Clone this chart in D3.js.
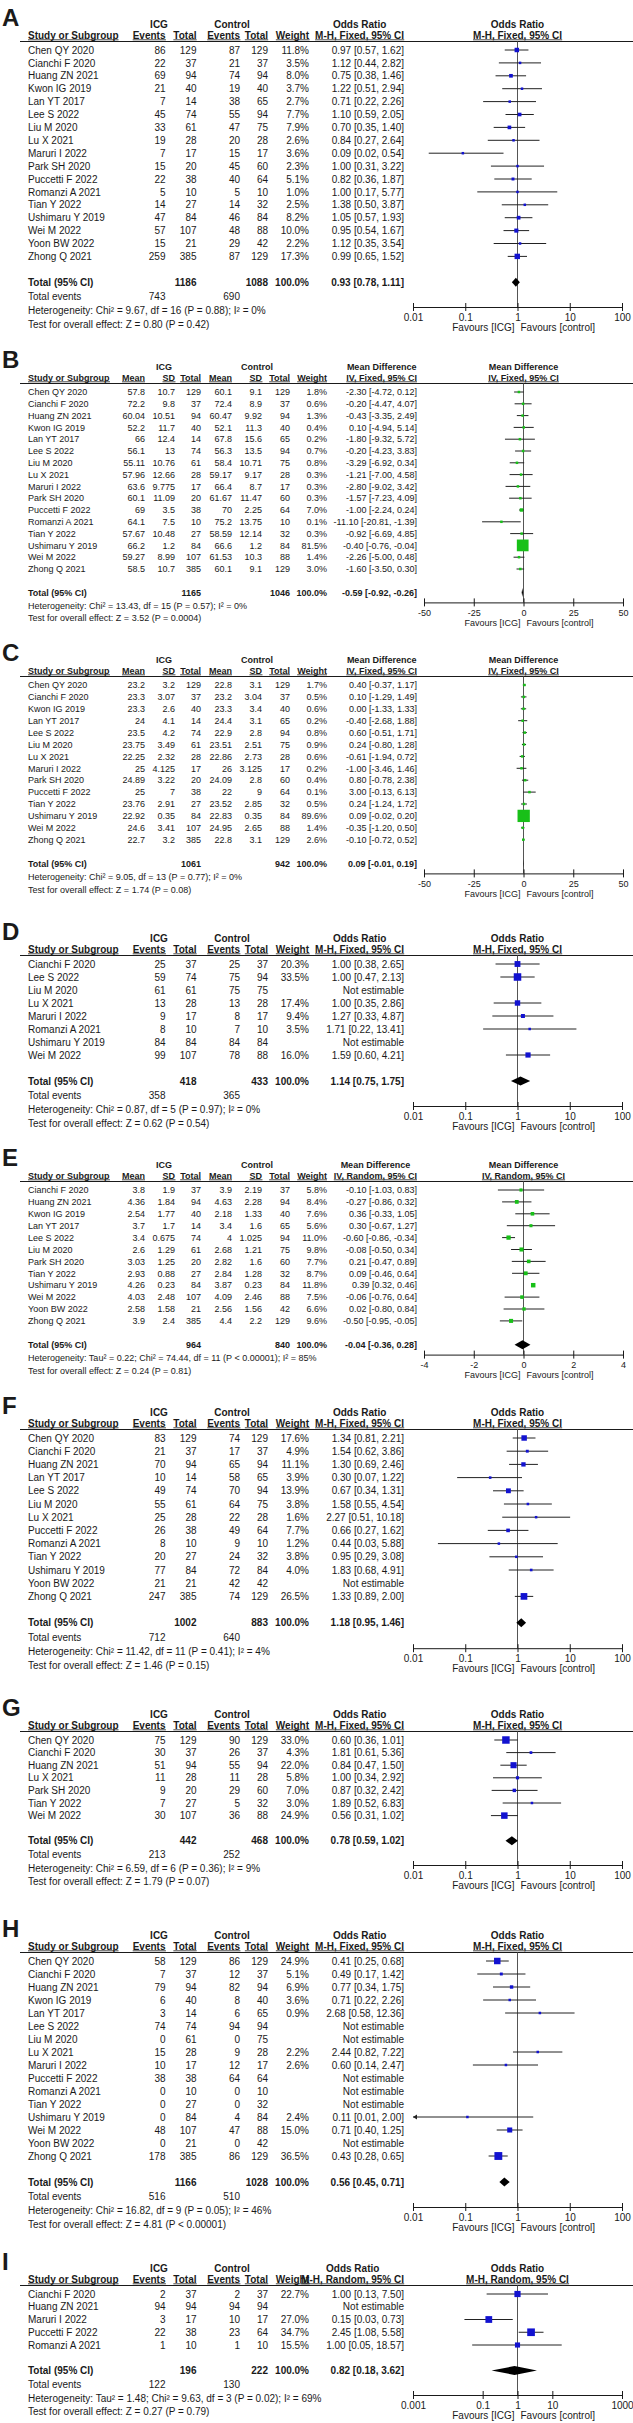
<!DOCTYPE html>
<html>
<head>
<meta charset="utf-8">
<title>Forest plots: ICG vs control</title>
<script src="https://cdn.jsdelivr.net/npm/d3@7"></script>
<style>
body { margin: 0; background: #fff; }
svg { display: block; font-family: "Liberation Sans", Arial, sans-serif; }
</style>
</head>
<body>
<svg id="chart" width="633" height="2423"></svg>
<script>
// ---- data ----
// dichotomous rows: study, ICG events, ICG total, control events, control total, weight, OR, lo, hi
var rowsA = [
  ["Chen QY 2020", 86, 129, 87, 129, 11.8, 0.97, 0.57, 1.62],
  ["Cianchi F 2020", 22, 37, 21, 37, 3.5, 1.12, 0.44, 2.82],
  ["Huang ZN 2021", 69, 94, 74, 94, 8.0, 0.75, 0.38, 1.46],
  ["Kwon IG 2019", 21, 40, 19, 40, 3.7, 1.22, 0.51, 2.94],
  ["Lan YT 2017", 7, 14, 38, 65, 2.7, 0.71, 0.22, 2.26],
  ["Lee S 2022", 45, 74, 55, 94, 7.7, 1.10, 0.59, 2.05],
  ["Liu M 2020", 33, 61, 47, 75, 7.9, 0.70, 0.35, 1.40],
  ["Lu X 2021", 19, 28, 20, 28, 2.6, 0.84, 0.27, 2.64],
  ["Maruri I 2022", 7, 17, 15, 17, 3.6, 0.09, 0.02, 0.54],
  ["Park SH 2020", 15, 20, 45, 60, 2.3, 1.00, 0.31, 3.22],
  ["Puccetti F 2022", 22, 38, 40, 64, 5.1, 0.82, 0.36, 1.87],
  ["Romanzi A 2021", 5, 10, 5, 10, 1.0, 1.00, 0.17, 5.77],
  ["Tian Y 2022", 14, 27, 14, 32, 2.5, 1.38, 0.50, 3.87],
  ["Ushimaru Y 2019", 47, 84, 46, 84, 8.2, 1.05, 0.57, 1.93],
  ["Wei M 2022", 57, 107, 48, 88, 10.0, 0.95, 0.54, 1.67],
  ["Yoon BW 2022", 15, 21, 29, 42, 2.2, 1.12, 0.35, 3.54],
  ["Zhong Q 2021", 259, 385, 87, 129, 17.3, 0.99, 0.65, 1.52]
];
var totalA = [1186, 1088, 0.93, 0.78, 1.11];
var eventsA = [743, 690];
var hetA = "Heterogeneity: Chi² = 9.67, df = 16 (P = 0.88); I² = 0%";
var testA = "Test for overall effect: Z = 0.80 (P = 0.42)";

// continuous rows: study, ICG mean, sd, total, control mean, sd, total, weight, MD, lo, hi
var rowsB = [
  ["Chen QY 2020", 57.8, 10.7, 129, 60.1, 9.1, 129, 1.8, -2.30, -4.72, 0.12],
  ["Cianchi F 2020", 72.2, 9.8, 37, 72.4, 8.9, 37, 0.6, -0.20, -4.47, 4.07],
  ["Huang ZN 2021", 60.04, 10.51, 94, 60.47, 9.92, 94, 1.3, -0.43, -3.35, 2.49],
  ["Kwon IG 2019", 52.2, 11.7, 40, 52.1, 11.3, 40, 0.4, 0.10, -4.94, 5.14],
  ["Lan YT 2017", 66, 12.4, 14, 67.8, 15.6, 65, 0.2, -1.80, -9.32, 5.72],
  ["Lee S 2022", 56.1, 13, 74, 56.3, 13.5, 94, 0.7, -0.20, -4.23, 3.83],
  ["Liu M 2020", 55.11, 10.76, 61, 58.4, 10.71, 75, 0.8, -3.29, -6.92, 0.34],
  ["Lu X 2021", 57.96, 12.66, 28, 59.17, 9.17, 28, 0.3, -1.21, -7.00, 4.58],
  ["Maruri I 2022", 63.6, 9.775, 17, 66.4, 8.7, 17, 0.3, -2.80, -9.02, 3.42],
  ["Park SH 2020", 60.1, 11.09, 20, 61.67, 11.47, 60, 0.3, -1.57, -7.23, 4.09],
  ["Puccetti F 2022", 69, 3.5, 38, 70, 2.25, 64, 7.0, -1.00, -2.24, 0.24],
  ["Romanzi A 2021", 64.1, 7.5, 10, 75.2, 13.75, 10, 0.1, -11.10, -20.81, -1.39],
  ["Tian Y 2022", 57.67, 10.48, 27, 58.59, 12.14, 32, 0.3, -0.92, -6.69, 4.85],
  ["Ushimaru Y 2019", 66.2, 1.2, 84, 66.6, 1.2, 84, 81.5, -0.40, -0.76, -0.04],
  ["Wei M 2022", 59.27, 8.99, 107, 61.53, 10.3, 88, 1.4, -2.26, -5.00, 0.48],
  ["Zhong Q 2021", 58.5, 10.7, 385, 60.1, 9.1, 129, 3.0, -1.60, -3.50, 0.30]
];
var totalB = [1165, 1046, -0.59, -0.92, -0.26];
var hetB = "Heterogeneity: Chi² = 13.43, df = 15 (P = 0.57); I² = 0%";
var testB = "Test for overall effect: Z = 3.52 (P = 0.0004)";

var rowsC = [
  ["Chen QY 2020", 23.2, 3.2, 129, 22.8, 3.1, 129, 1.7, 0.40, -0.37, 1.17],
  ["Cianchi F 2020", 23.3, 3.07, 37, 23.2, 3.04, 37, 0.5, 0.10, -1.29, 1.49],
  ["Kwon IG 2019", 23.3, 2.6, 40, 23.3, 3.4, 40, 0.6, 0.00, -1.33, 1.33],
  ["Lan YT 2017", 24, 4.1, 14, 24.4, 3.1, 65, 0.2, -0.40, -2.68, 1.88],
  ["Lee S 2022", 23.5, 4.2, 74, 22.9, 2.8, 94, 0.8, 0.60, -0.51, 1.71],
  ["Liu M 2020", 23.75, 3.49, 61, 23.51, 2.51, 75, 0.9, 0.24, -0.80, 1.28],
  ["Lu X 2021", 22.25, 2.32, 28, 22.86, 2.73, 28, 0.6, -0.61, -1.94, 0.72],
  ["Maruri I 2022", 25, 4.125, 17, 26, 3.125, 17, 0.2, -1.00, -3.46, 1.46],
  ["Park SH 2020", 24.89, 3.22, 20, 24.09, 2.8, 60, 0.4, 0.80, -0.78, 2.38],
  ["Puccetti F 2022", 25, 7, 38, 22, 9, 64, 0.1, 3.00, -0.13, 6.13],
  ["Tian Y 2022", 23.76, 2.91, 27, 23.52, 2.85, 32, 0.5, 0.24, -1.24, 1.72],
  ["Ushimaru Y 2019", 22.92, 0.35, 84, 22.83, 0.35, 84, 89.6, 0.09, -0.02, 0.20],
  ["Wei M 2022", 24.6, 3.41, 107, 24.95, 2.65, 88, 1.4, -0.35, -1.20, 0.50],
  ["Zhong Q 2021", 22.7, 3.2, 385, 22.8, 3.1, 129, 2.6, -0.10, -0.72, 0.52]
];
var totalC = [1061, 942, 0.09, -0.01, 0.19];
var hetC = "Heterogeneity: Chi² = 9.05, df = 13 (P = 0.77); I² = 0%";
var testC = "Test for overall effect: Z = 1.74 (P = 0.08)";

var rowsD = [
  ["Cianchi F 2020", 25, 37, 25, 37, 20.3, 1.00, 0.38, 2.65],
  ["Lee S 2022", 59, 74, 75, 94, 33.5, 1.00, 0.47, 2.13],
  ["Liu M 2020", 61, 61, 75, 75, null, null, null, null],
  ["Lu X 2021", 13, 28, 13, 28, 17.4, 1.00, 0.35, 2.86],
  ["Maruri I 2022", 9, 17, 8, 17, 9.4, 1.27, 0.33, 4.87],
  ["Romanzi A 2021", 8, 10, 7, 10, 3.5, 1.71, 0.22, 13.41],
  ["Ushimaru Y 2019", 84, 84, 84, 84, null, null, null, null],
  ["Wei M 2022", 99, 107, 78, 88, 16.0, 1.59, 0.60, 4.21]
];
var totalD = [418, 433, 1.14, 0.75, 1.75];
var eventsD = [358, 365];
var hetD = "Heterogeneity: Chi² = 0.87, df = 5 (P = 0.97); I² = 0%";
var testD = "Test for overall effect: Z = 0.62 (P = 0.54)";

var rowsE = [
  ["Cianchi F 2020", 3.8, 1.9, 37, 3.9, 2.19, 37, 5.8, -0.10, -1.03, 0.83],
  ["Huang ZN 2021", 4.36, 1.84, 94, 4.63, 2.28, 94, 8.4, -0.27, -0.86, 0.32],
  ["Kwon IG 2019", 2.54, 1.77, 40, 2.18, 1.33, 40, 7.6, 0.36, -0.33, 1.05],
  ["Lan YT 2017", 3.7, 1.7, 14, 3.4, 1.6, 65, 5.6, 0.30, -0.67, 1.27],
  ["Lee S 2022", 3.4, 0.675, 74, 4, 1.025, 94, 11.0, -0.60, -0.86, -0.34],
  ["Liu M 2020", 2.6, 1.29, 61, 2.68, 1.21, 75, 9.8, -0.08, -0.50, 0.34],
  ["Park SH 2020", 3.03, 1.25, 20, 2.82, 1.6, 60, 7.7, 0.21, -0.47, 0.89],
  ["Tian Y 2022", 2.93, 0.88, 27, 2.84, 1.28, 32, 8.7, 0.09, -0.46, 0.64],
  ["Ushimaru Y 2019", 4.26, 0.23, 84, 3.87, 0.23, 84, 11.8, 0.39, 0.32, 0.46],
  ["Wei M 2022", 4.03, 2.48, 107, 4.09, 2.46, 88, 7.5, -0.06, -0.76, 0.64],
  ["Yoon BW 2022", 2.58, 1.58, 21, 2.56, 1.56, 42, 6.6, 0.02, -0.80, 0.84],
  ["Zhong Q 2021", 3.9, 2.4, 385, 4.4, 2.2, 129, 9.6, -0.50, -0.95, -0.05]
];
var totalE = [964, 840, -0.04, -0.36, 0.28];
var hetE = "Heterogeneity: Tau² = 0.22; Chi² = 74.44, df = 11 (P < 0.00001); I² = 85%";
var testE = "Test for overall effect: Z = 0.24 (P = 0.81)";

var rowsF = [
  ["Chen QY 2020", 83, 129, 74, 129, 17.6, 1.34, 0.81, 2.21],
  ["Cianchi F 2020", 21, 37, 17, 37, 4.9, 1.54, 0.62, 3.86],
  ["Huang ZN 2021", 70, 94, 65, 94, 11.1, 1.30, 0.69, 2.46],
  ["Lan YT 2017", 10, 14, 58, 65, 3.9, 0.30, 0.07, 1.22],
  ["Lee S 2022", 49, 74, 70, 94, 13.9, 0.67, 0.34, 1.31],
  ["Liu M 2020", 55, 61, 64, 75, 3.8, 1.58, 0.55, 4.54],
  ["Lu X 2021", 25, 28, 22, 28, 1.6, 2.27, 0.51, 10.18],
  ["Puccetti F 2022", 26, 38, 49, 64, 7.7, 0.66, 0.27, 1.62],
  ["Romanzi A 2021", 8, 10, 9, 10, 1.2, 0.44, 0.03, 5.88],
  ["Tian Y 2022", 20, 27, 24, 32, 3.8, 0.95, 0.29, 3.08],
  ["Ushimaru Y 2019", 77, 84, 72, 84, 4.0, 1.83, 0.68, 4.91],
  ["Yoon BW 2022", 21, 21, 42, 42, null, null, null, null],
  ["Zhong Q 2021", 247, 385, 74, 129, 26.5, 1.33, 0.89, 2.00]
];
var totalF = [1002, 883, 1.18, 0.95, 1.46];
var eventsF = [712, 640];
var hetF = "Heterogeneity: Chi² = 11.42, df = 11 (P = 0.41); I² = 4%";
var testF = "Test for overall effect: Z = 1.46 (P = 0.15)";

var rowsG = [
  ["Chen QY 2020", 75, 129, 90, 129, 33.0, 0.60, 0.36, 1.01],
  ["Cianchi F 2020", 30, 37, 26, 37, 4.3, 1.81, 0.61, 5.36],
  ["Huang ZN 2021", 51, 94, 55, 94, 22.0, 0.84, 0.47, 1.50],
  ["Lu X 2021", 11, 28, 11, 28, 5.8, 1.00, 0.34, 2.92],
  ["Park SH 2020", 9, 20, 29, 60, 7.0, 0.87, 0.32, 2.42],
  ["Tian Y 2022", 7, 27, 5, 32, 3.0, 1.89, 0.52, 6.83],
  ["Wei M 2022", 30, 107, 36, 88, 24.9, 0.56, 0.31, 1.02]
];
var totalG = [442, 468, 0.78, 0.59, 1.02];
var eventsG = [213, 252];
var hetG = "Heterogeneity: Chi² = 6.59, df = 6 (P = 0.36); I² = 9%";
var testG = "Test for overall effect: Z = 1.79 (P = 0.07)";

var rowsH = [
  ["Chen QY 2020", 58, 129, 86, 129, 24.9, 0.41, 0.25, 0.68],
  ["Cianchi F 2020", 7, 37, 12, 37, 5.1, 0.49, 0.17, 1.42],
  ["Huang ZN 2021", 79, 94, 82, 94, 6.9, 0.77, 0.34, 1.75],
  ["Kwon IG 2019", 6, 40, 8, 40, 3.6, 0.71, 0.22, 2.26],
  ["Lan YT 2017", 3, 14, 6, 65, 0.9, 2.68, 0.58, 12.36],
  ["Lee S 2022", 74, 74, 94, 94, null, null, null, null],
  ["Liu M 2020", 0, 61, 0, 75, null, null, null, null],
  ["Lu X 2021", 15, 28, 9, 28, 2.2, 2.44, 0.82, 7.22],
  ["Maruri I 2022", 10, 17, 12, 17, 2.6, 0.60, 0.14, 2.47],
  ["Puccetti F 2022", 38, 38, 64, 64, null, null, null, null],
  ["Romanzi A 2021", 0, 10, 0, 10, null, null, null, null],
  ["Tian Y 2022", 0, 27, 0, 32, null, null, null, null],
  ["Ushimaru Y 2019", 0, 84, 4, 84, 2.4, 0.11, 0.01, 2.00],
  ["Wei M 2022", 48, 107, 47, 88, 15.0, 0.71, 0.40, 1.25],
  ["Yoon BW 2022", 0, 21, 0, 42, null, null, null, null],
  ["Zhong Q 2021", 178, 385, 86, 129, 36.5, 0.43, 0.28, 0.65]
];
var totalH = [1166, 1028, 0.56, 0.45, 0.71];
var eventsH = [516, 510];
var hetH = "Heterogeneity: Chi² = 16.82, df = 9 (P = 0.05); I² = 46%";
var testH = "Test for overall effect: Z = 4.81 (P < 0.00001)";

var rowsI = [
  ["Cianchi F 2020", 2, 37, 2, 37, 22.7, 1.00, 0.13, 7.50],
  ["Huang ZN 2021", 94, 94, 94, 94, null, null, null, null],
  ["Maruri I 2022", 3, 17, 10, 17, 27.0, 0.15, 0.03, 0.73],
  ["Puccetti F 2022", 22, 38, 23, 64, 34.7, 2.45, 1.08, 5.58],
  ["Romanzi A 2021", 1, 10, 1, 10, 15.5, 1.00, 0.05, 18.57]
];
var totalI = [196, 222, 0.82, 0.18, 3.62];
var eventsI = [122, 130];
var hetI = "Heterogeneity: Tau² = 1.48; Chi² = 9.63, df = 3 (P = 0.02); I² = 69%";
var testI = "Test for overall effect: Z = 0.27 (P = 0.79)";

// axis ticks
var ticksOR = [0.01, 0.1, 1, 10, 100];
var ticksORwide = [0.001, 0.1, 1, 10, 1000];
var ticksMD50 = [-50, -25, 0, 25, 50];
var ticksMD4 = [-4, -2, 0, 2, 4];

// ---- layout ----
var dichCols = { font: 10, study: 28, cols: [165.5, 196.5, 240, 268], w: 309, ci: 404,
  icg: 159, ctl: 232, ax0: 413, ax1: 622, heads: ["Events", "Total", "Events", "Total"], fill: "#1212d0" };
var contCols = { font: 9, study: 28, cols: [145, 175, 201, 232, 262, 290], w: 327, ci: 417,
  icg: 164, ctl: 257, ax0: 424, ax1: 623, heads: ["Mean", "SD", "Total", "Mean", "SD", "Total"], fill: "#18c018" };

var panels = [
  { letter: "A", kind: "dich", rows: rowsA, total: totalA, events: eventsA, het: hetA, test: testA, measure: "Odds Ratio", method: "M-H, Fixed, 95% CI", log: true, domain: [0.01, 100], ticks: ticksOR, y0: 50, step: 12.9 },
  { letter: "B", kind: "cont", rows: rowsB, total: totalB, het: hetB, test: testB, measure: "Mean Difference", method: "IV, Fixed, 95% CI", log: false, domain: [-50, 50], ticks: ticksMD50, y0: 392, step: 11.8 },
  { letter: "C", kind: "cont", rows: rowsC, total: totalC, het: hetC, test: testC, measure: "Mean Difference", method: "IV, Fixed, 95% CI", log: false, domain: [-50, 50], ticks: ticksMD50, y0: 685, step: 11.9 },
  { letter: "D", kind: "dich", rows: rowsD, total: totalD, events: eventsD, het: hetD, test: testD, measure: "Odds Ratio", method: "M-H, Fixed, 95% CI", log: true, domain: [0.01, 100], ticks: ticksOR, y0: 964, step: 13.0 },
  { letter: "E", kind: "cont", rows: rowsE, total: totalE, het: hetE, test: testE, measure: "Mean Difference", method: "IV, Random, 95% CI", log: false, domain: [-4, 4], ticks: ticksMD4, y0: 1190, step: 11.9 },
  { letter: "F", kind: "dich", rows: rowsF, total: totalF, events: eventsF, het: hetF, test: testF, measure: "Odds Ratio", method: "M-H, Fixed, 95% CI", log: true, domain: [0.01, 100], ticks: ticksOR, y0: 1438, step: 13.2 },
  { letter: "G", kind: "dich", rows: rowsG, total: totalG, events: eventsG, het: hetG, test: testG, measure: "Odds Ratio", method: "M-H, Fixed, 95% CI", log: true, domain: [0.01, 100], ticks: ticksOR, y0: 1740, step: 12.6 },
  { letter: "H", kind: "dich", rows: rowsH, total: totalH, events: eventsH, het: hetH, test: testH, measure: "Odds Ratio", method: "M-H, Fixed, 95% CI", log: true, domain: [0.01, 100], ticks: ticksOR, y0: 1961, step: 13.0 },
  { letter: "I", kind: "dich", rows: rowsI, total: totalI, events: eventsI, het: hetI, test: testI, measure: "Odds Ratio", method: "M-H, Random, 95% CI", log: true, domain: [0.001, 1000], ticks: ticksORwide, y0: 2294, step: 12.75 }
];

var svg = d3.select("#chart");
var ink = "#1a1a1a";

function f2(v) { return v.toFixed(2); }
function ciText(e, l, h) { return f2(e) + " [" + f2(l) + ", " + f2(h) + "]"; }

//text helper, optional underline drawn as a line under the glyphs
function txt(g, x, y, s, o) {
  o = o || {};
  var t = g.append("text").attr("x", x).attr("y", y).text(s)
    .attr("font-size", o.size || 10)
    .attr("fill", ink)
    .attr("text-anchor", o.anchor || "start");
  if (o.bold) t.attr("font-weight", "bold");
  if (o.under) {
    var bb = t.node().getBBox();
    g.append("line").attr("x1", bb.x).attr("x2", bb.x + bb.width)
      .attr("y1", y + 1.3).attr("y2", y + 1.3)
      .attr("stroke", ink).attr("stroke-width", 0.8);
  }
  return t;
}

function drawPanel(p) {
  var c = p.kind === "dich" ? dichCols : contCols;
  var fs = c.font, R = p.step, y0 = p.y0;
  var g = svg.append("g").attr("class", "panel-" + p.letter);
  var base = fs * 0.36;
  var rowY = function (i) { return y0 + i * R; };

  var totalY = rowY(p.rows.length - 1) + 2 * R;
  var yy = totalY;
  var eventsY = p.events ? (yy += R + 1) : null;
  var hetY = (yy += R + 1);
  var testY = (yy += R + 1);
  var axisY = hetY - 3;

  var x = (p.log ? d3.scaleLog() : d3.scaleLinear()).domain(p.domain).range([c.ax0, c.ax1]);
  var ref = p.log ? 1 : 0;
  var mid = x(ref);

  // panel letter
  txt(g, 2, y0 - 24, p.letter, { size: 24, bold: true });

  // header lines
  var gy = y0 - 22, hy = y0 - 11.5;
  txt(g, c.icg, gy, "ICG", { size: fs, bold: true, anchor: "middle" });
  txt(g, c.ctl, gy, "Control", { size: fs, bold: true, anchor: "middle" });
  var mt = txt(g, c.ci, hy, p.method, { size: fs, bold: true, anchor: "end", under: true });
  var mb = mt.node().getBBox();
  txt(g, mb.x + mb.width / 2, gy, p.measure, { size: fs, bold: true, anchor: "middle" });
  txt(g, mid, gy, p.measure, { size: fs, bold: true, anchor: "middle" });
  txt(g, mid, hy, p.method, { size: fs, bold: true, anchor: "middle", under: true });
  txt(g, c.study, hy, "Study or Subgroup", { size: fs, bold: true, under: true });
  c.heads.forEach(function (h, i) {
    txt(g, c.cols[i], hy, h, { size: fs, bold: true, anchor: "end", under: true });
  });
  txt(g, c.w, hy, "Weight", { size: fs, bold: true, anchor: "end", under: true });

  g.append("line").attr("x1", 20).attr("x2", 633)
    .attr("y1", y0 - 8.5).attr("y2", y0 - 8.5)
    .attr("stroke", ink).attr("stroke-width", 1);

  // null line
  g.append("line").attr("x1", mid).attr("x2", mid)
    .attr("y1", y0 - 8.5).attr("y2", axisY)
    .attr("stroke", "#555").attr("stroke-width", 1);

  var d0 = p.domain[0], d1 = p.domain[1];

  // study rows
  p.rows.forEach(function (r, i) {
    var cy = rowY(i), ty = cy + base;
    txt(g, c.study, ty, r[0], { size: fs });
    c.cols.forEach(function (cx, k) { txt(g, cx, ty, String(r[k + 1]), { size: fs, anchor: "end" }); });
    var n = r.length;
    var w = r[n - 4], est = r[n - 3], lo = r[n - 2], hi = r[n - 1];
    if (est === null) {
      txt(g, c.ci, ty, "Not estimable", { size: fs, anchor: "end" });
      return;
    }
    txt(g, c.w, ty, w.toFixed(1) + "%", { size: fs, anchor: "end" });
    txt(g, c.ci, ty, ciText(est, lo, hi), { size: fs, anchor: "end" });

    var xl = x(Math.max(lo, d0)), xh = x(Math.min(hi, d1));
    g.append("line").attr("x1", xl).attr("x2", xh).attr("y1", cy).attr("y2", cy)
      .attr("stroke", "#222").attr("stroke-width", 1);
    if (lo <= d0) {
      g.append("path").attr("d", "M" + xl + "," + cy + "l4,-2.5l0,5z").attr("fill", "#222");
    }
    if (hi >= d1) {
      g.append("path").attr("d", "M" + xh + "," + cy + "l-4,-2.5l0,5z").attr("fill", "#222");
    }
    var s = Math.max(2.5, 1.3 * Math.sqrt(w));
    g.append("rect").attr("x", x(est) - s / 2).attr("y", cy - s / 2)
      .attr("width", s).attr("height", s).attr("fill", c.fill);
  });

  // total row
  var t = p.total, tty = totalY + base;
  var nCols = c.cols.length;
  txt(g, c.study, tty, "Total (95% CI)", { size: fs, bold: true });
  txt(g, c.cols[nCols / 2 - 1], tty, String(t[0]), { size: fs, bold: true, anchor: "end" });
  txt(g, c.cols[nCols - 1], tty, String(t[1]), { size: fs, bold: true, anchor: "end" });
  txt(g, c.w, tty, "100.0%", { size: fs, bold: true, anchor: "end" });
  txt(g, c.ci, tty, ciText(t[2], t[3], t[4]), { size: fs, bold: true, anchor: "end" });
  var dh = 4.5;
  g.append("path")
    .attr("d", "M" + x(t[3]) + "," + totalY + "L" + x(t[2]) + "," + (totalY - dh) +
      "L" + x(t[4]) + "," + totalY + "L" + x(t[2]) + "," + (totalY + dh) + "Z")
    .attr("fill", "#000");

  if (p.events) {
    txt(g, c.study, eventsY + base, "Total events", { size: fs });
    txt(g, c.cols[0], eventsY + base, String(p.events[0]), { size: fs, anchor: "end" });
    txt(g, c.cols[2], eventsY + base, String(p.events[1]), { size: fs, anchor: "end" });
  }
  txt(g, c.study, hetY + base, p.het, { size: fs });
  txt(g, c.study, testY + base, p.test, { size: fs });

  // axis
  var ag = g.append("g").attr("transform", "translate(0," + axisY + ")")
    .call(d3.axisBottom(x).tickValues(p.ticks).tickSizeOuter(0).tickSizeInner(4)
      .tickFormat(function (d) { return String(d); }));
  ag.attr("font-family", null).attr("font-size", fs);
  ag.select(".domain").attr("stroke", ink);
  ag.selectAll(".tick line").attr("y1", -4).attr("y2", 4).attr("stroke", ink);
  ag.selectAll(".tick text").attr("y", 7).attr("fill", ink);

  var fy = axisY + 23.5;
  txt(g, mid - 3, fy, "Favours [ICG]", { size: fs, anchor: "end" });
  txt(g, mid + 3, fy, "Favours [control]", { size: fs });
}

panels.forEach(drawPanel);
</script>
</body>
</html>
